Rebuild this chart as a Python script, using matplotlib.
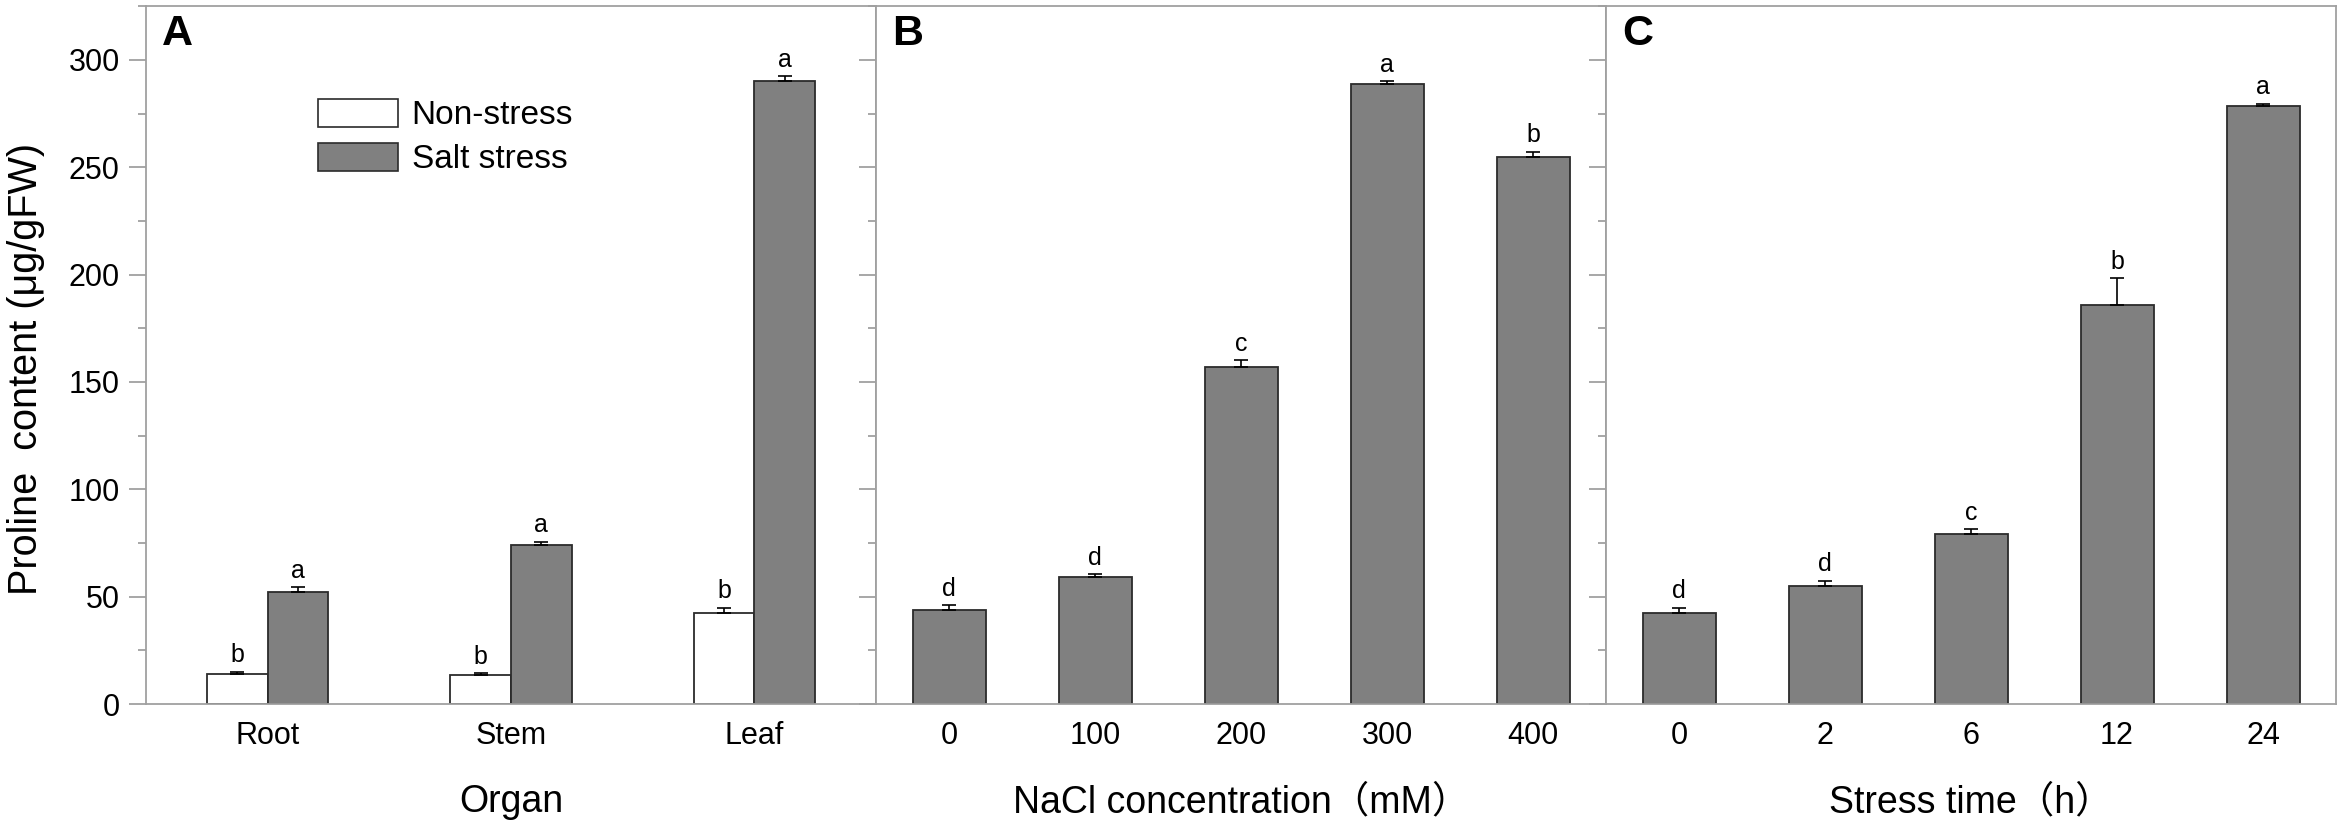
import numpy as np
import matplotlib
matplotlib.use("Agg")
import matplotlib.pyplot as plt
from matplotlib.patches import Patch
from matplotlib.ticker import MultipleLocator

plt.rcParams['font.family'] = ['Liberation Sans', 'Noto Sans CJK SC', 'DejaVu Sans']

# panel A - organs
organs = ["Root", "Stem", "Leaf"]
non_stress = [14.1, 13.3, 42.4]
non_stress_err = [0.9, 1.0, 2.3]
non_stress_sig = ["b", "b", "b"]
salt_stress = [52.3, 74.0, 290.1]
salt_stress_err = [2.0, 1.5, 2.2]
salt_stress_sig = ["a", "a", "a"]

# panel B - NaCl concentration
nacl_labels = ["0", "100", "200", "300", "400"]
nacl_vals = [43.9, 59.2, 156.9, 288.9, 254.8]
nacl_err = [2.0, 1.2, 3.2, 1.2, 2.3]
nacl_sig = ["d", "d", "c", "a", "b"]

# panel C - stress time
time_labels = ["0", "2", "6", "12", "24"]
time_vals = [42.2, 54.8, 79.2, 186.0, 278.5]
time_err = [2.5, 2.4, 2.2, 12.3, 1.2]
time_sig = ["d", "d", "c", "b", "a"]

GRAY = "#808080"
SPINE = "#a0a0a0"
EDGE = "#2b2b2b"

W, H = 2346, 831
fig = plt.figure(figsize=(W / 100, H / 100), dpi=100)

y0, ytop = 704, 6.3
bottom = 1 - y0 / H
height = (y0 - ytop) / H
width = 730 / W
lefts = [146 / W, 876 / W, 1606 / W]
axes = [fig.add_axes([l, bottom, width, height]) for l in lefts]


def style(ax, first):
    ax.set_ylim(0, 325)
    ax.yaxis.set_major_locator(MultipleLocator(50))
    ax.yaxis.set_minor_locator(MultipleLocator(25))
    for s in ax.spines.values():
        s.set_color(SPINE)
        s.set_linewidth(1.3)
    ax.tick_params(axis="y", which="major", direction="out", length=12,
                   width=1.3, color=SPINE, labelsize=22, pad=7)
    ax.tick_params(axis="y", which="minor", direction="out", length=6,
                   width=1.3, color=SPINE)
    ax.tick_params(axis="x", length=0, labelsize=22, pad=12)
    if not first:
        ax.tick_params(axis="y", labelleft=False)


def bars(ax, x, vals, err, sig, w, color):
    ax.bar(x, vals, w, color=color, edgecolor=EDGE, linewidth=1.3, zorder=2)
    ax.errorbar(x, vals, yerr=[np.zeros(len(err)), err], fmt="none",
                ecolor="black", elinewidth=1.2, capsize=5, capthick=1.2, zorder=3)
    for xi, v, e, s in zip(x, vals, err, sig):
        ax.annotate(s, (xi, v + e), xytext=(0, 7), textcoords="offset points",
                    ha="center", va="baseline", fontsize=18)


# A
ax = axes[0]
style(ax, True)
xa = np.arange(len(organs))
bw = 0.25
bars(ax, xa - bw / 2, non_stress, non_stress_err, non_stress_sig, bw, "white")
bars(ax, xa + bw / 2, salt_stress, salt_stress_err, salt_stress_sig, bw, GRAY)
ax.set_xlim(-0.5, 2.5)
ax.set_xticks(xa)
ax.set_xticklabels(organs)
ax.set_xlabel("Organ", fontsize=27, labelpad=24)
handles = [Patch(facecolor="white", edgecolor=EDGE, linewidth=1.2, label="Non-stress"),
           Patch(facecolor=GRAY, edgecolor=EDGE, linewidth=1.2, label="Salt stress")]
ax.legend(handles=handles, loc="upper left", bbox_to_anchor=(0.236, 0.867),
          frameon=False, fontsize=24, handlelength=2.4, handleheight=0.9,
          handletextpad=0.4, labelspacing=0.35, borderpad=0, borderaxespad=0)

# B
ax = axes[1]
style(ax, False)
xb = np.arange(len(nacl_labels))
bars(ax, xb, nacl_vals, nacl_err, nacl_sig, 0.5, GRAY)
ax.set_xlim(-0.5, 4.5)
ax.set_xticks(xb)
ax.set_xticklabels(nacl_labels)
ax.set_xlabel("NaCl concentration（mM）", fontsize=27, labelpad=24)

# C
ax = axes[2]
style(ax, False)
xc = np.arange(len(time_labels))
bars(ax, xc, time_vals, time_err, time_sig, 0.5, GRAY)
ax.set_xlim(-0.5, 4.5)
ax.set_xticks(xc)
ax.set_xticklabels(time_labels)
ax.set_xlabel("Stress time（h）", fontsize=27, labelpad=24)

for ax, letter in zip(axes, "ABC"):
    ax.text(16 / 730, 1 - 8 / 698, letter, transform=ax.transAxes,
            fontsize=31, fontweight="bold", ha="left", va="top")

fig.text(26 / W, 1 - 369 / H, "Proline  content (μg/gFW)", rotation=90,
         ha="center", va="center", fontsize=28.5)

fig.savefig("out.png", dpi=100)
